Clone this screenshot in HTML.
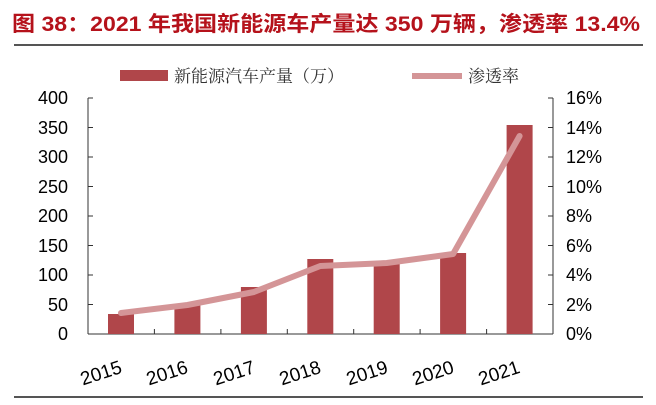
<!DOCTYPE html><html><head><meta charset="utf-8"><style>body{margin:0;background:#fff}svg{display:block}</style></head><body>
<svg width="656" height="405" xmlns="http://www.w3.org/2000/svg" font-family="Liberation Sans, Noto Sans CJK SC, sans-serif">
<text x="12" y="31" font-size="21" font-weight="bold" fill="#b5121b" textLength="628" lengthAdjust="spacingAndGlyphs">图 38：2021 年我国新能源车产量达 350 万辆，渗透率 13.4%</text>
<line x1="14" y1="45" x2="643" y2="45" stroke="#555" stroke-width="2"/>
<line x1="14" y1="397" x2="643" y2="397" stroke="#555" stroke-width="2"/>
<rect x="120" y="70" width="48" height="11" fill="#b0464a"/>
<text x="174" y="82" font-size="17" fill="#333" font-family="Noto Serif CJK SC, serif">新能源汽车产量（万）</text>
<line x1="412" y1="76" x2="462" y2="76" stroke="#d49597" stroke-width="6"/>
<text x="468" y="82" font-size="17" fill="#333" font-family="Noto Serif CJK SC, serif">渗透率</text>
<g stroke="#333" stroke-width="1">
<line x1="88" y1="98" x2="88" y2="334"/><line x1="553" y1="98" x2="553" y2="334"/><line x1="88" y1="334" x2="553" y2="334"/>
<path d="M88 98h5M88 127.5h5M88 157h5M88 186.5h5M88 216h5M88 245.5h5M88 275h5M88 304.5h5"/>
<path d="M553 98h-5M553 127.5h-5M553 157h-5M553 186.5h-5M553 216h-5M553 245.5h-5M553 275h-5M553 304.5h-5"/>
<path d="M154.4 334v-5M220.9 334v-5M287.3 334v-5M353.7 334v-5M420.1 334v-5M486.6 334v-5"/>
</g>
<g font-size="18" fill="#000" text-anchor="end">
<text x="68" y="104">400</text><text x="68" y="134">350</text><text x="68" y="163">300</text><text x="68" y="193">250</text><text x="68" y="222">200</text><text x="68" y="252">150</text><text x="68" y="281">100</text><text x="68" y="311">50</text><text x="68" y="340">0</text>
</g>
<g font-size="18" fill="#000">
<text x="566" y="104">16%</text><text x="566" y="134">14%</text><text x="566" y="163">12%</text><text x="566" y="193">10%</text><text x="566" y="222">8%</text><text x="566" y="252">6%</text><text x="566" y="281">4%</text><text x="566" y="311">2%</text><text x="566" y="340">0%</text>
</g>
<g fill="#b0464a">
<rect x="108" y="314" width="26" height="20"/>
<rect x="174.4" y="304" width="26" height="30"/>
<rect x="240.9" y="287" width="26" height="47"/>
<rect x="307.3" y="259" width="26" height="75"/>
<rect x="373.7" y="261" width="26" height="73"/>
<rect x="440.1" y="253" width="26" height="81"/>
<rect x="506.6" y="125" width="26" height="209"/>
</g>
<polyline fill="none" stroke="#d49597" stroke-width="6" stroke-linejoin="round" stroke-linecap="round" points="121,313 187.4,305 253.9,292 320.3,266 386.7,263 453.1,254 519.6,136"/>
<g font-size="19" fill="#000" text-anchor="middle">
<text transform="translate(103,379) rotate(-18)">2015</text>
<text transform="translate(169,379) rotate(-18)">2016</text>
<text transform="translate(236,379) rotate(-18)">2017</text>
<text transform="translate(302,379) rotate(-18)">2018</text>
<text transform="translate(369,379) rotate(-18)">2019</text>
<text transform="translate(435,379) rotate(-18)">2020</text>
<text transform="translate(501,379) rotate(-18)">2021</text>
</g>
</svg></body></html>
